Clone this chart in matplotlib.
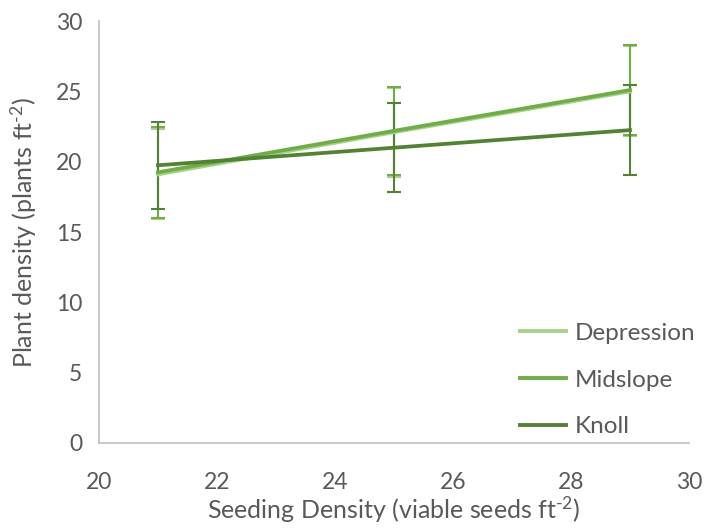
import numpy as np
import matplotlib
matplotlib.use("Agg")
import matplotlib.pyplot as plt
from matplotlib.lines import Line2D

plt.rcParams['font.family'] = ['Lato', 'DejaVu Sans']
plt.rcParams['mathtext.fontset'] = 'custom'
plt.rcParams['mathtext.rm'] = 'Lato'
plt.rcParams['mathtext.it'] = 'Lato:italic'

# seeding density (viable seeds ft-2)
seeding = [21, 25, 29]

# plant density means and error (plants ft-2)
depression = [19.1, 22.1, 25.0]
depression_err = [3.2, 3.15, 3.2]
midslope = [19.25, 22.2, 25.1]
midslope_err = [3.25, 3.15, 3.2]
knoll = [19.75, 21.0, 22.25]
knoll_err = [3.1, 3.15, 3.2]

series = [("Depression", depression, depression_err, "#a9d18e"),
          ("Midslope", midslope, midslope_err, "#70ad47"),
          ("Knoll", knoll, knoll_err, "#548235")]

txt = "#595959"

fig = plt.figure(figsize=(7.07, 5.29), dpi=100)
ax = fig.add_axes([0.14, 0.1626, 0.8345, 0.7974])

handles = []
for name, y, err, col in series:
    ax.errorbar(seeding, y, yerr=err, color=col, lw=2.7, elinewidth=1.5,
                capsize=5, capthick=1.5)
    handles.append(Line2D([], [], color=col, lw=2.8, label=name))

ax.set_xlim(20, 30)
ax.set_ylim(0, 30)
ax.set_xticks(np.arange(20, 31, 2))
ax.set_yticks(np.arange(0, 31, 5))
ax.tick_params(length=0, labelsize=16.5, labelcolor=txt)
ax.tick_params(axis="x", pad=21)
ax.tick_params(axis="y", pad=12)
for s in ["top", "right"]:
    ax.spines[s].set_visible(False)
for s in ["left", "bottom"]:
    ax.spines[s].set_color("#bfbfbf")
    ax.spines[s].set_linewidth(1.2)

ax.set_xlabel(r"Seeding Density (viable seeds ft$^{\text{-}2}$)", fontsize=18, color=txt, labelpad=1)
ax.set_ylabel(r"Plant density (plants ft$^{\text{-}2}$)", fontsize=18, color=txt, labelpad=12)

fig.legend(handles=handles, loc="center left", frameon=False, fontsize=17.5, labelcolor=txt,
           handlelength=1.9, handletextpad=0.35, labelspacing=1.05,
           borderpad=0, borderaxespad=0,
           bbox_to_anchor=(520 / 707, 1 - 380 / 529))

fig.savefig("out.png", dpi=100)
